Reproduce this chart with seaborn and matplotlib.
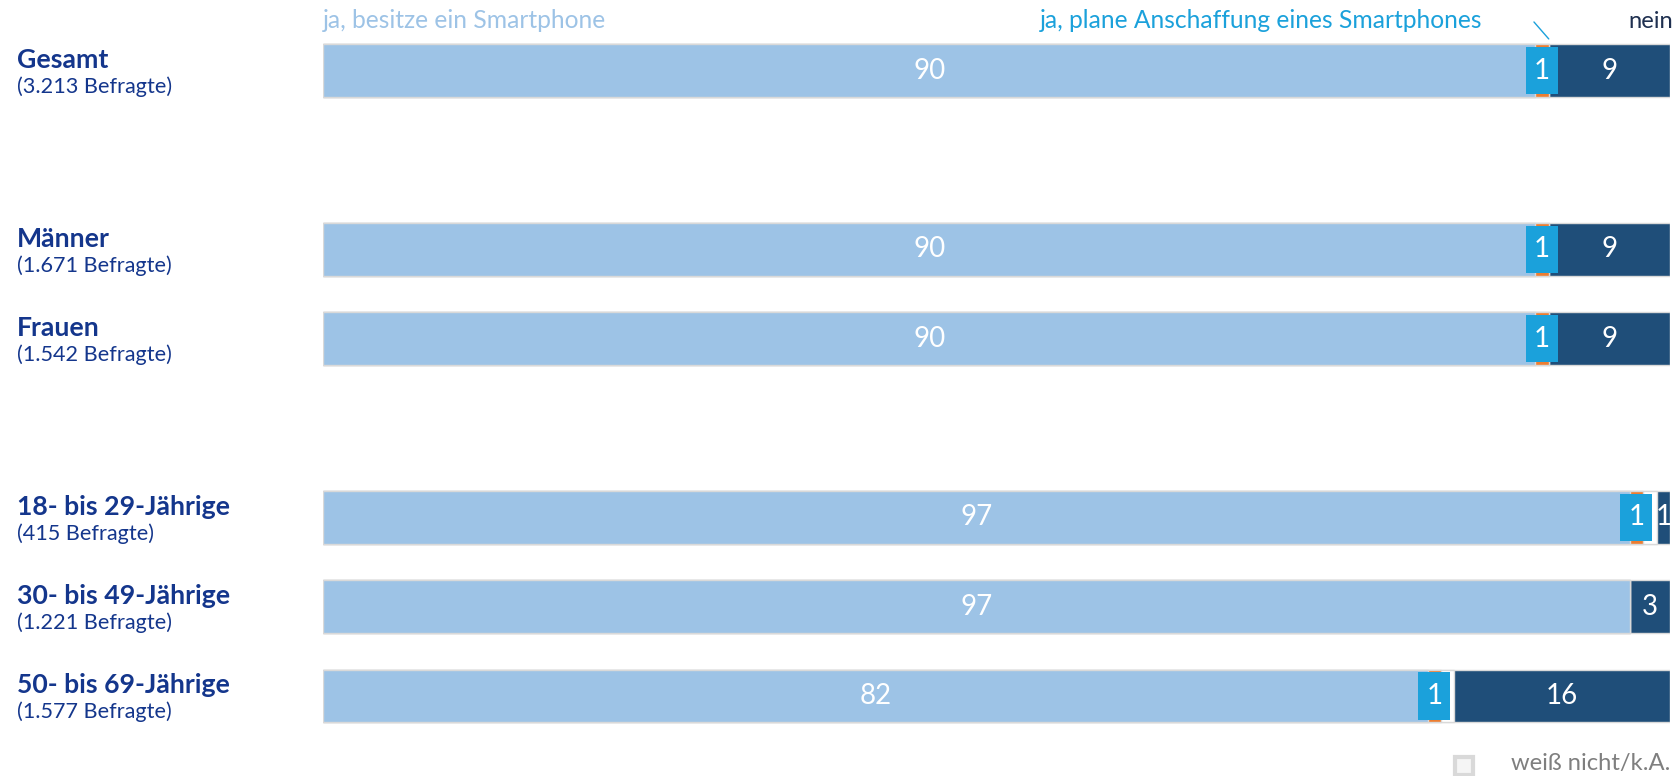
import numpy as np
import pandas as pd
import seaborn as sns
import matplotlib.pyplot as plt
import matplotlib.transforms as mtransforms

# ---------------- data ----------------
groups = ["Gesamt", "Männer", "Frauen",
          "18- bis 29-Jährige", "30- bis 49-Jährige", "50- bis 69-Jährige"]
respondents = ["(3.213 Befragte)", "(1.671 Befragte)", "(1.542 Befragte)",
               "(415 Befragte)", "(1.221 Befragte)", "(1.577 Befragte)"]
besitze = [90, 90, 90, 97, 97, 82]
plane = [1, 1, 1, 1, 0, 1]
weiss_nicht = [0, 0, 0, 1, 0, 1]
nein = [9, 9, 9, 1, 3, 16]
series_labels = ["ja, besitze ein Smartphone",
                 "ja, plane Anschaffung eines Smartphones",
                 "weiß nicht/k.A.", "nein"]

# category order with blank rows acting as group separators
order = ["Gesamt", "gap_1", "Männer", "Frauen", "gap_2",
         "18- bis 29-Jährige", "30- bis 49-Jährige", "50- bis 69-Jährige"]

# ---------------- styling ----------------
C_BESITZE = "#9DC3E6"
C_PLANE = "#1BA1DB"
C_PLANE_SEG = "#ED7D31"
C_WEISS = "#FFFFFF"
C_NEIN = "#1F4E79"
C_NEIN_TXT = "#1F3050"
C_EDGE = "#D9D9D9"
C_LABEL = "#14368C"

sns.set_theme(style="white")
plt.rcParams["font.family"] = ["Lato", "DejaVu Sans"]

df = pd.DataFrame({
    "group": groups, "besitze": besitze, "plane": plane,
    "weiss": weiss_nicht, "nein": nein,
})
df["c1"] = df["besitze"]
df["c2"] = df["c1"] + df["plane"]
df["c3"] = df["c2"] + df["weiss"]
df["c4"] = df["c3"] + df["nein"]

W, H = 1678, 776
fig = plt.figure(figsize=(W / 100, H / 100), dpi=100)
ax = fig.add_axes([323 / W, 1 - 740.7 / H, (1670 - 323) / W, (740.7 - 25.9) / H])
renderer = fig.canvas.get_renderer()


def fit_size(samples, weight="normal", base=16):
    """font size so that sample strings get the given pixel widths (mean ratio)"""
    ratios = []
    for s, target in samples:
        t = fig.text(0, 0, s, fontsize=base, fontweight=weight)
        w = t.get_window_extent(renderer).width
        t.remove()
        ratios.append(target / w)
    return base * float(np.mean(ratios))


FS_BOLD = fit_size([("Gesamt", 92), ("18- bis 29-Jährige", 213)], "bold")
FS_SUB = fit_size([("(3.213 Befragte)", 155), ("(415 Befragte)", 138)])
FS_TOP = fit_size([(series_labels[0], 285), (series_labels[1], 445)])
FS_NEIN = fit_size([(series_labels[3], 45)])
FS_WEISS = fit_size([(series_labels[2], 160)])
FS_NUM = fit_size([("90", 32)])

bar_w = 0.59
layers = [("c4", C_NEIN), ("c3", C_WEISS), ("c2", C_PLANE_SEG), ("c1", C_BESITZE)]
for col, color in layers:
    sns.barplot(data=df, x=col, y="group", order=order, orient="h",
                color=color, saturation=1, width=bar_w, errorbar=None,
                edgecolor=C_EDGE, linewidth=1, ax=ax)

ax.set_xlim(0, 100)
ax.set_ylim(len(order) - 0.5, -0.5)
ax.set_xlabel("")
ax.set_ylabel("")
ax.set_xticks([])
ax.set_yticks([])
for s in ax.spines.values():
    s.set_visible(False)

ypos = {g: order.index(g) for g in groups}

# value labels
box_w = 2.4
box_h = 0.53
for i, g in enumerate(groups):
    y = ypos[g]
    b, p, w_, n = besitze[i], plane[i], weiss_nicht[i], nein[i]
    ax.text(b / 2, y, f"{b}", ha="center", va="center", color="white", fontsize=FS_NUM)
    if p > 0:
        cx = b + p / 2
        ax.add_patch(plt.Rectangle((cx - box_w / 2, y - box_h / 2), box_w, box_h,
                                   facecolor=C_PLANE, edgecolor="none", zorder=5))
        ax.text(cx, y, f"{p}", ha="center", va="center", color="white",
                fontsize=FS_NUM, zorder=6)
    if n > 0:
        ax.text(b + p + w_ + n / 2, y, f"{n}", ha="center", va="center",
                color="white", fontsize=FS_NUM, zorder=6, clip_on=False)

# category labels on the left
tr_left = mtransforms.blended_transform_factory(fig.transFigure, ax.transData)
for i, g in enumerate(groups):
    y = ypos[g]
    ax.text(17 / W, y - 0.03, g, transform=tr_left, ha="left", va="baseline",
            fontsize=FS_BOLD, fontweight="bold", color=C_LABEL)
    ax.text(17 / W, y + 0.25, respondents[i], transform=tr_left, ha="left",
            va="baseline", fontsize=FS_SUB, color=C_LABEL)

# legend labels on top
tr_top = mtransforms.blended_transform_factory(ax.transData, fig.transFigure)
y_top = 1 - 28 / H
ax.text(0, y_top, series_labels[0], transform=tr_top, ha="left", va="baseline",
        fontsize=FS_TOP, color=C_BESITZE)
ax.text(86.1, y_top, series_labels[1], transform=tr_top, ha="right", va="baseline",
        fontsize=FS_TOP, color=C_PLANE)
ax.text(100.2, y_top, series_labels[3], transform=tr_top, ha="right", va="baseline",
        fontsize=FS_NEIN, color=C_NEIN_TXT)

# leader line from legend label to the small segment of "Gesamt"
g0 = ypos["Gesamt"]
ax.plot([besitze[0] - 0.1, besitze[0] + plane[0]], [g0 - 0.544, g0 - 0.354],
        color=C_PLANE, lw=1, clip_on=False)

# bottom legend for "weiß nicht/k.A."
y_bot = 1 - 770 / H
ax.text(100, y_bot, series_labels[2], transform=tr_top, ha="right", va="baseline",
        fontsize=FS_WEISS, color="#7F7F7F")
ax.plot([84.7], [1 - 766 / H], transform=tr_top, marker="s", markersize=13,
        markerfacecolor="#F5F5F5", markeredgecolor=C_EDGE, markeredgewidth=3,
        clip_on=False, linestyle="none")

fig.savefig("out.png", dpi=100)
